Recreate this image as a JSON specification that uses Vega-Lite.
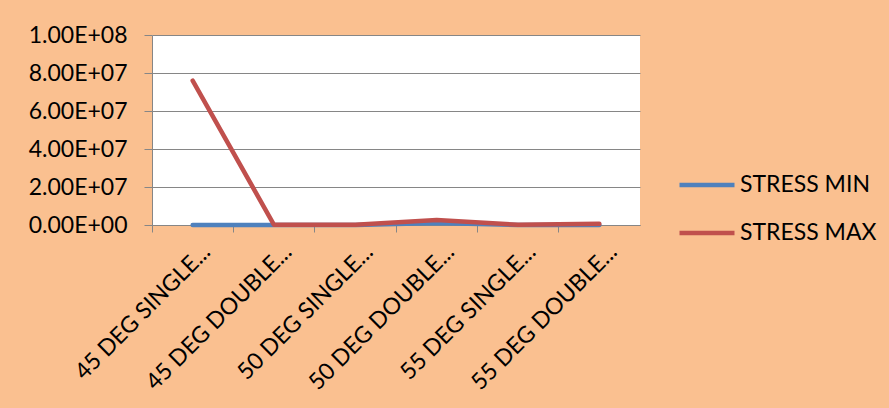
{
  "$schema": "https://vega.github.io/schema/vega-lite/v6.json",
  "width": 488,
  "height": 190,
  "autosize": {"type": "none"},
  "padding": {"left": 152, "top": 35, "right": 249, "bottom": 183},
  "background": "#FAC090",
  "data": {
    "values": [
      {"category": "45 DEG SINGLE...", "series": "STRESS MIN", "value": 0},
      {"category": "45 DEG DOUBLE...", "series": "STRESS MIN", "value": 0},
      {"category": "50 DEG SINGLE...", "series": "STRESS MIN", "value": 0},
      {"category": "50 DEG DOUBLE...", "series": "STRESS MIN", "value": 1000000},
      {"category": "55 DEG SINGLE...", "series": "STRESS MIN", "value": 0},
      {"category": "55 DEG DOUBLE...", "series": "STRESS MIN", "value": 0},
      {"category": "45 DEG SINGLE...", "series": "STRESS MAX", "value": 76000000},
      {"category": "45 DEG DOUBLE...", "series": "STRESS MAX", "value": 100000},
      {"category": "50 DEG SINGLE...", "series": "STRESS MAX", "value": 100000},
      {"category": "50 DEG DOUBLE...", "series": "STRESS MAX", "value": 2600000},
      {"category": "55 DEG SINGLE...", "series": "STRESS MAX", "value": 100000},
      {"category": "55 DEG DOUBLE...", "series": "STRESS MAX", "value": 600000}
    ]
  },
  "mark": {"type": "line", "strokeWidth": 4.5, "strokeCap": "round", "strokeJoin": "round"},
  "encoding": {
    "x": {
      "field": "category",
      "type": "nominal",
      "sort": null,
      "bandPosition": 0.5,
      "scale": {"type": "band", "paddingInner": 0, "paddingOuter": 0},
      "axis": {
        "title": null,
        "bandPosition": 0,
        "domainColor": "#868686",
        "tickColor": "#868686",
        "tickSize": 7,
        "labelAngle": -45,
        "labelAlign": "right",
        "labelBaseline": "alphabetic",
        "labelOffset": 19,
        "labelPadding": 21,
        "labelFont": "Lato",
        "labelFontSize": 23,
        "labelColor": "#000000",
        "labelLimit": 0,
        "grid": false
      }
    },
    "y": {
      "field": "value",
      "type": "quantitative",
      "scale": {"domain": [0, 100000000], "nice": false},
      "axis": {
        "title": null,
        "values": [0, 20000000, 40000000, 60000000, 80000000, 100000000],
        "labelExpr": "replace(format(datum.value, '.2e'), 'e+', 'E+0')",
        "domainColor": "#868686",
        "tickColor": "#868686",
        "tickSize": 8,
        "gridColor": "#868686",
        "gridWidth": 1,
        "labelPadding": 17,
        "labelFont": "Lato",
        "labelFontSize": 23,
        "labelColor": "#000000"
      }
    },
    "color": {
      "field": "series",
      "type": "nominal",
      "sort": ["STRESS MIN", "STRESS MAX"],
      "scale": {"domain": ["STRESS MIN", "STRESS MAX"], "range": ["#4F81BD", "#C0504D"]},
      "legend": {
        "title": null,
        "orient": "none",
        "legendX": 525,
        "legendY": 120,
        "symbolType": "stroke",
        "symbolSize": 3025,
        "symbolStrokeWidth": 4.5,
        "labelFont": "Lato",
        "labelFontSize": 23,
        "labelColor": "#000000",
        "labelOffset": 3,
        "rowPadding": 6
      }
    }
  },
  "config": {
    "view": {"fill": "#FFFFFF", "stroke": null}
  }
}
